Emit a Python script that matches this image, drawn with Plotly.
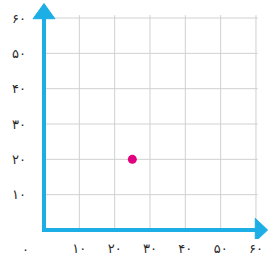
import plotly.graph_objects as go

# data
point_x = [25]
point_y = [20]
x_ticks = [10, 20, 30, 40, 50, 60]
y_ticks = [10, 20, 30, 40, 50, 60]
x_tick_labels = ["۱۰", "۲۰", "۳۰", "۴۰", "۵۰", "۶۰"]
y_tick_labels = ["۱۰", "۲۰", "۳۰", "۴۰", "۵۰", "۶۰"]
origin_label = "۰"

AXIS = "#1eaee6"
GRID = "#d0d0d0"
TXT = "#2a2a2a"
PU = 3.533  # px per unit

fig = go.Figure()
fig.add_trace(go.Scatter(x=point_x, y=point_y, mode="markers",
                         marker=dict(color="#e3007f", size=9), hoverinfo="skip",
                         showlegend=False))

shapes = []
# grid lines
for v in x_ticks:
    shapes.append(dict(type="line", xref="x", yref="y", x0=v, x1=v, y0=0, y1=60.8,
                       line=dict(color=GRID, width=1), layer="below"))
for v in y_ticks:
    shapes.append(dict(type="line", xref="x", yref="y", x0=0, x1=60.5, y0=v, y1=v,
                       line=dict(color=GRID, width=1), layer="below"))
# axis lines
shapes.append(dict(type="line", xref="x", yref="y", x0=-0.55, x1=60.5, y0=0, y1=0,
                   line=dict(color=AXIS, width=4)))
shapes.append(dict(type="line", xref="x", yref="y", x0=0, x1=0, y0=-0.55, y1=60.5,
                   line=dict(color=AXIS, width=4)))
# arrowheads
shapes.append(dict(type="path", xref="x", yref="y",
                   path="M -3.1,59.8 L 3.1,59.8 L 0,64.1 Z",
                   fillcolor=AXIS, line=dict(color=AXIS, width=1)))
shapes.append(dict(type="path", xref="x", yref="y",
                   path="M 59.8,-3.3 L 59.8,3.3 L 63.3,0 Z",
                   fillcolor=AXIS, line=dict(color=AXIS, width=1)))

fig.update_layout(
    width=268, height=259,
    margin=dict(l=30, r=0, t=0, b=20),
    paper_bgcolor="white", plot_bgcolor="white",
    shapes=shapes,
    font=dict(family="DejaVu Sans", size=13, color=TXT),
    xaxis=dict(range=[-14 / PU, 238 / PU - 14 / PU], showgrid=False, zeroline=False,
               showline=False, tickvals=x_ticks, ticktext=x_tick_labels, ticks="",
               fixedrange=True),
    yaxis=dict(range=[-9 / PU, 230 / PU], showgrid=False, zeroline=False,
               showline=False, tickvals=y_ticks, ticktext=y_tick_labels, ticks="",
               ticklabelstandoff=3, fixedrange=True),
    annotations=[dict(x=-0.021, y=-0.046, xref="paper", yref="paper", text=origin_label,
                      showarrow=False, xanchor="center", yanchor="middle",
                      font=dict(family="DejaVu Sans", size=13, color=TXT))],
)

fig.write_html("out.html", config={"displayModeBar": False},
               post_script="document.body.style.margin='0';")
